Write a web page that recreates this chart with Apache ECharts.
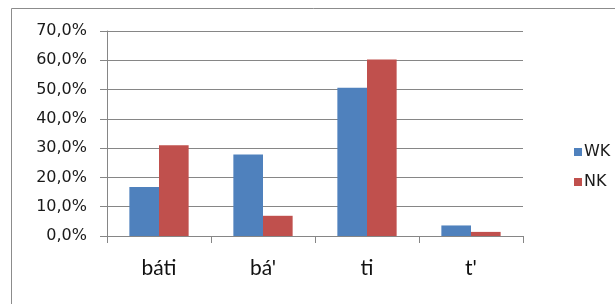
<!DOCTYPE html>
<html>
<head>
<meta charset="utf-8">
<script src="https://cdn.jsdelivr.net/npm/echarts@6/dist/echarts.min.js"></script>
<style>
html,body{margin:0;padding:0;background:#fff;}
#c{width:615px;height:304px;}
</style>
</head>
<body>
<div id="c"></div>
<script>
const categories = ['báti', 'bá\'', 'ti', 't\''];
const seriesNames = ['WK', 'NK'];
const wkValues = [16.7, 27.8, 50.6, 3.6];
const nkValues = [31.0, 6.9, 60.3, 1.4];
const yMin = 0, yMax = 70, yStep = 10;

const chart = echarts.init(document.getElementById('c'), null, {renderer: 'canvas'});
chart.setOption({
  animation: false,
  backgroundColor: '#fff',
  graphic: [{
    type: 'rect',
    shape: {x: 11.5, y: 8.5, width: 700, height: 400},
    style: {fill: 'none', stroke: '#8c8c8c', lineWidth: 1},
    silent: true
  }],
  grid: {left: 107, right: 92, top: 31, bottom: 68},
  legend: {
    orient: 'vertical',
    left: 569, top: 139,
    itemWidth: 8, itemHeight: 8, itemGap: 14,
    icon: 'rect',
    textStyle: {fontFamily: 'DejaVu Sans', fontSize: 16, color: '#1a1a1a', padding: [0, 0, 0, -3]},
    data: seriesNames
  },
  xAxis: {
    type: 'category',
    data: categories,
    axisLine: {lineStyle: {color: '#868686', width: 1}},
    axisTick: {show: true, length: 7, alignWithLabel: false, lineStyle: {color: '#868686'}},
    axisLabel: {fontFamily: 'Lato', fontSize: 21, color: '#111', margin: 22}
  },
  yAxis: {
    type: 'value',
    min: yMin, max: yMax, interval: yStep,
    axisLine: {show: true, lineStyle: {color: '#868686', width: 1}},
    axisTick: {show: true, length: 7, lineStyle: {color: '#868686'}},
    splitLine: {lineStyle: {color: '#868686', width: 1.2}},
    axisLabel: {
      fontFamily: 'DejaVu Sans', fontSize: 16, color: '#1a1a1a', margin: 20,
      formatter: v => v.toFixed(1).replace('.', ',') + '%'
    }
  },
  series: [
    {name: seriesNames[0], type: 'bar', data: wkValues, barGap: '0%', barCategoryGap: '43%',
     itemStyle: {color: '#4F81BD'}},
    {name: seriesNames[1], type: 'bar', data: nkValues, barGap: '0%', barCategoryGap: '43%',
     itemStyle: {color: '#C0504D'}}
  ]
});
</script>
</body>
</html>
